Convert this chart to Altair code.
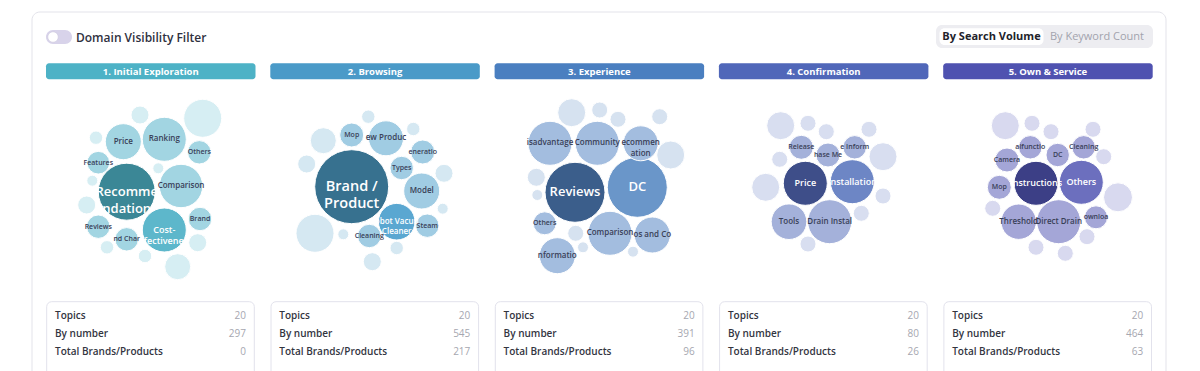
import math
import altair as alt
import pandas as pd

# ---------------- data ----------------
stage_names = ["1. Initial Exploration", "2. Browsing", "3. Experience", "4. Confirmation", "5. Own & Service"]
stage_colors = ["#4db2c6", "#4a9ac8", "#4a7fc0", "#5067b9", "#4f52b0"]
topics_count = [20, 20, 20, 20, 20]
by_number = [297, 545, 391, 80, 464]
total_brands = [0, 217, 96, 26, 63]
stat_labels = ["Topics", "By number", "Total Brands/Products"]

# bubble colours per stage: dark / medium / light / faint
tier_colors = [
    {"dark": "#3b8796", "medium": "#5db7cb", "light": "#a2d5e2", "faint": "#d6eef3"},
    {"dark": "#37718f", "medium": "#5aa7d1", "light": "#a0cce3", "faint": "#d5e8f2"},
    {"dark": "#3b5e8b", "medium": "#6a96c9", "light": "#a3bddf", "faint": "#d6e2f0"},
    {"dark": "#3e4e89", "medium": "#6d86c5", "light": "#a4b1da", "faint": "#d8def0"},
    {"dark": "#3c3f86", "medium": "#6c6fbe", "light": "#a4a6d7", "faint": "#d8d9ef"},
]

# Stage 1 bubbles (label as visible, search volume, packed-layout x / y, tier)
p1_labels = ["Recomme\nndation", "Ranking", "Price", "", "", "Others", "", "Features", "", "",
             "Comparison", "", "Brand", "Reviews", "Cost-\nffectivenes", "nd Char", "", "", "", ""]
p1_volume = [8120, 4840, 3240, 3610, 810, 1370, 450, 1280, 300, 300,
             4710, 810, 1370, 1370, 4840, 1370, 810, 450, 450, 1690]
p1_lx = [80.7, 118.3, 77.3, 156.7, 94, 153.3, 50, 52.3, 112.3, 46.3,
         135, 40.7, 154, 52.3, 118.3, 80.7, 151.7, 61, 99, 131.7]
p1_ly = [101.7, 49.3, 51.7, 28.3, 25, 62.3, 47.7, 72.7, 78.3, 90.7,
         96, 115, 129, 136.7, 140, 149.3, 152.7, 157.3, 166, 176.7]
p1_tier = ["dark", "light", "light", "faint", "faint", "light", "faint", "light", "faint", "faint",
           "light", "faint", "light", "light", "medium", "light", "faint", "faint", "faint", "faint"]

# Stage 2
p2_labels = ["Brand /\nProduct", "", "", "", "Mop", "", "ew Produc", "", "eneratio", "Types",
             "", "Model", "", "obot Vacuu\nCleaner", "Steam", "", "Cleaning", "", ""]
p2_volume = [13690, 3610, 1690, 810, 1440, 450, 3060, 450, 1440, 1370,
             810, 3240, 300, 3350, 1370, 300, 1370, 450, 810]
p2_lx = [81.4, 44.7, 53, 36.4, 81.4, 98, 115.7, 143, 152.4, 131.4,
         173.7, 151.4, 172.4, 126.4, 157, 73, 99, 126.4, 102]
p2_ly = [96.7, 143.3, 50.7, 74, 45, 26.7, 48.3, 39, 62, 78,
         83.3, 101, 118.7, 131.7, 135.7, 144.3, 146, 158, 171.7]
p2_tier = ["dark", "faint", "faint", "faint", "light", "faint", "light", "faint", "light", "light",
           "faint", "light", "faint", "medium", "light", "faint", "light", "faint", "faint"]

# Stage 3
p3_labels = ["Reviews", "DC", "isadvantage", "Community", "ecommen\nation", "", "", "", "", "",
             "", "", "Others", "", "", "Comparison", "os and Co", "", "nformatio"]
p3_volume = [9000, 9000, 4840, 4840, 3060, 1960, 640, 640, 640, 1960,
             810, 300, 1320, 640, 300, 4840, 3240, 300, 3240]
p3_lx = [80.4, 142.7, 55.4, 102.7, 146.1, 77.1, 105.1, 123.4, 165.1, 176.1,
         41.7, 42.7, 50.1, 81.1, 88.4, 115.4, 157.7, 138.4, 62.7]
p3_ly = [102.3, 97.3, 53.3, 53.3, 53.3, 22.7, 20, 29.3, 26.7, 65,
         87.3, 105, 133.3, 143.3, 157.3, 143.3, 145, 161.7, 165.7]
p3_tier = ["dark", "medium", "light", "light", "light", "faint", "faint", "faint", "faint", "faint",
           "faint", "faint", "light", "faint", "faint", "light", "light", "faint", "light"]

# Stage 4
p4_labels = ["Price", "Installation", "Drain Instal", "Tools", "Release", "hase Me", "e Inform",
             "", "", "", "", "", "", "", "", "", ""]
p4_volume = [4840, 4840, 4840, 3170, 1440, 1440, 1370, 1960, 640, 640, 640, 1960, 640, 1960, 640, 640, 640]
p4_lx = [86.4, 133.4, 110.8, 70.1, 82.4, 109.1, 135.8, 61.8, 89.1, 107.4, 150.1, 164.1, 60.8, 46.8, 164.1, 142.4, 89.1]
p4_ly = [93.3, 91.7, 131.7, 131.7, 57.3, 65, 57.3, 35.7, 33.3, 41.7, 39.3, 66.7, 69.3, 97.3, 106, 123.3, 154]
p4_tier = ["dark", "medium", "light", "light", "light", "light", "light",
           "faint", "faint", "faint", "faint", "faint", "faint", "faint", "faint", "faint", "faint"]

# Stage 5
p5_labels = ["Instructions", "Others", "Direct Drain", "Threshold", "alfunctio", "DC", "Cleaning", "Camera", "Mop", "ownloa",
             "", "", "", "", "", "", "", "", "", ""]
p5_volume = [4840, 4840, 4840, 3130, 1370, 1370, 1370, 1440, 1440, 1320,
             1960, 640, 640, 640, 640, 2100, 640, 640, 640, 640]
p5_lx = [92.8, 138.1, 115.5, 75.5, 87.1, 114.5, 140.5, 63.8, 56.1, 152.8,
         62.1, 88.8, 107.8, 149.8, 160.5, 174.8, 49.5, 143.8, 92.8, 122.1]
p5_ly = [93.3, 92.3, 131.7, 131.7, 57.3, 65, 57.3, 70, 97.3, 127.3,
         35.7, 33.3, 41.7, 39.3, 66.7, 107.3, 118.3, 146.7, 157.3, 163.3]
p5_tier = ["dark", "medium", "light", "light", "light", "light", "light", "light", "light", "light",
           "faint", "faint", "faint", "faint", "faint", "faint", "faint", "faint", "faint", "faint"]

panels = [
    (p1_labels, p1_volume, p1_lx, p1_ly, p1_tier),
    (p2_labels, p2_volume, p2_lx, p2_ly, p2_tier),
    (p3_labels, p3_volume, p3_lx, p3_ly, p3_tier),
    (p4_labels, p4_volume, p4_lx, p4_ly, p4_tier),
    (p5_labels, p5_volume, p5_lx, p5_ly, p5_tier),
]

# ---------------- layout ----------------
W, H = 1184, 363
M = 8  # page margin; scales take page pixel coordinates
FONT = "Open Sans"
PANEL_LEFT = [46 + i * 224.3 for i in range(5)]
PANEL_W = 209.5
BUBBLE_TOP = 90
VMAX, RMAX = 13690, 37

xs = alt.Scale(domain=[M, M + W], range=[0, W], nice=False, zero=False)
ys = alt.Scale(domain=[M, M + H], range=[0, H], nice=False, zero=False)


def X(f="x"):
    return alt.X(f + ":Q", scale=xs, axis=None)


def Y(f="y"):
    return alt.Y(f + ":Q", scale=ys, axis=None)


# bubbles table
rows = []
for i, (labels, vols, lxs, lys, tiers) in enumerate(panels):
    for lab, v, lx, ly, t in zip(labels, vols, lxs, lys, tiers):
        r = RMAX * math.sqrt(v / VMAX)
        if r >= 35:
            fs = 14.5
        elif r >= 27:
            fs = 13
        elif t in ("dark", "medium") and r >= 20:
            fs = 9
        elif r >= 17:
            fs = 8
        else:
            fs = 7
        rows.append(dict(stage=stage_names[i], label=lab, volume=v,
                         x=PANEL_LEFT[i] + lx, y=BUBBLE_TOP + ly,
                         fill=tier_colors[i][t],
                         tcol="#ffffff" if t in ("dark", "medium") else "#394057",
                         fs=fs))
bub = pd.DataFrame(rows)

card = alt.Chart(pd.DataFrame([dict(x=32, x2=1166, y=12, y2=420)])).mark_rect(
    fill="white", stroke="#e3e3ea", strokeWidth=1, cornerRadius=8
).encode(x=X(), x2="x2:Q", y=Y(), y2="y2:Q")

toggle = alt.Chart(pd.DataFrame([dict(x=46, x2=72, y=30, y2=44)])).mark_rect(
    fill="#d8d3ea", cornerRadius=7
).encode(x=X(), x2="x2:Q", y=Y(), y2="y2:Q")
knob = alt.Chart(pd.DataFrame([dict(x=53, y=37)])).mark_circle(
    fill="white", opacity=1, size=110, stroke="#cdc8de", strokeWidth=0.6
).encode(x=X(), y=Y())
toggle_txt = alt.Chart(pd.DataFrame([dict(x=76, y=37.5, t="Domain Visibility Filter")])).mark_text(
    align="left", baseline="middle", font=FONT, fontSize=12, fontWeight=600, color="#2f3140"
).encode(x=X(), y=Y(), text="t:N")

seg_bg = alt.Chart(pd.DataFrame([dict(x=936, x2=1153, y=25, y2=48)])).mark_rect(
    fill="#ededf1", cornerRadius=6
).encode(x=X(), x2="x2:Q", y=Y(), y2="y2:Q")
seg_on = alt.Chart(pd.DataFrame([dict(x=939.5, x2=1043.5, y=28.3, y2=45)])).mark_rect(
    fill="white", cornerRadius=5
).encode(x=X(), x2="x2:Q", y=Y(), y2="y2:Q")
seg_txt_b = alt.Chart(pd.DataFrame([dict(x=991.5, y=37, t="By Search Volume")])).mark_text(
    align="center", baseline="middle", font=FONT, fontSize=11, fontWeight=700, color="#22232b"
).encode(x=X(), y=Y(), text="t:N")
seg_txt_n = alt.Chart(pd.DataFrame([dict(x=1097, y=37, t="By Keyword Count")])).mark_text(
    align="center", baseline="middle", font=FONT, fontSize=11, fontWeight=400, color="#a2a3ad"
).encode(x=X(), y=Y(), text="t:N")

hdr = pd.DataFrame([dict(x=PANEL_LEFT[i], x2=PANEL_LEFT[i] + PANEL_W, xc=PANEL_LEFT[i] + PANEL_W / 2,
                         y=63.3, y2=79.3, yc=71.6, name=stage_names[i], c=stage_colors[i]) for i in range(5)])
hdr_rect = alt.Chart(hdr).mark_rect(cornerRadius=3).encode(
    x=X(), x2="x2:Q", y=Y(), y2="y2:Q", color=alt.Color("c:N", scale=None))
hdr_txt = alt.Chart(hdr).mark_text(
    align="center", baseline="middle", font=FONT, fontSize=9.5, fontWeight=700, color="white"
).encode(x=X("xc"), y=Y("yc"), text="name:N")

# Vega symbol size = area of the bounding square, i.e. (2r)^2
bubbles = alt.Chart(bub).mark_circle(opacity=1, stroke="white", strokeWidth=1).encode(
    x=X(), y=Y(),
    size=alt.Size("volume:Q", scale=alt.Scale(domain=[0, VMAX], range=[0, (2 * RMAX) ** 2], zero=True), legend=None),
    color=alt.Color("fill:N", scale=None),
    tooltip=["stage:N", "label:N", "volume:Q"],
)


def bubble_text(df, line_height):
    return alt.Chart(df).mark_text(
        align="center", baseline="middle", font=FONT, fontWeight=600, lineBreak="\n", lineHeight=line_height
    ).encode(
        x=X(), y=Y(), text="label:N",
        size=alt.Size("fs:Q", scale=None, legend=None),
        color=alt.Color("tcol:N", scale=None),
    )


lab_df = bub[bub["label"] != ""]
bub_txt_big = bubble_text(lab_df[lab_df["fs"] >= 13], 17.5)
bub_txt_small = bubble_text(lab_df[lab_df["fs"] < 13], 10.5)

box = pd.DataFrame([dict(x=PANEL_LEFT[i] + 0.7, x2=PANEL_LEFT[i] + 208.3, y=301.7, y2=420) for i in range(5)])
box_rect = alt.Chart(box).mark_rect(fill="white", stroke="#e2e2ec", strokeWidth=1, cornerRadius=5).encode(
    x=X(), x2="x2:Q", y=Y(), y2="y2:Q")

srows = []
for i in range(5):
    vals = [topics_count[i], by_number[i], total_brands[i]]
    for j, (lab, v) in enumerate(zip(stat_labels, vals)):
        srows.append(dict(lx=PANEL_LEFT[i] + 9, rx=PANEL_LEFT[i] + 200, y=315.9 + 18 * j, lab=lab, val=str(v)))
st = pd.DataFrame(srows)
stat_lab = alt.Chart(st).mark_text(
    align="left", baseline="middle", font=FONT, fontSize=10, fontWeight=600, color="#33353f"
).encode(x=X("lx"), y=Y(), text="lab:N")
stat_val = alt.Chart(st).mark_text(
    align="right", baseline="middle", font=FONT, fontSize=10, fontWeight=400, color="#a6a7b0"
).encode(x=X("rx"), y=Y(), text="val:N")

chart = alt.layer(
    card, toggle, knob, toggle_txt, seg_bg, seg_on, seg_txt_b, seg_txt_n,
    hdr_rect, hdr_txt, bubbles, bub_txt_big, bub_txt_small, box_rect, stat_lab, stat_val,
).properties(
    width=W, height=H, padding=0, autosize=alt.AutoSizeParams(type="none"),
    background="white",
).configure_view(stroke=None)

chart.save("out.html", embed_options={"renderer": "svg", "actions": False})
